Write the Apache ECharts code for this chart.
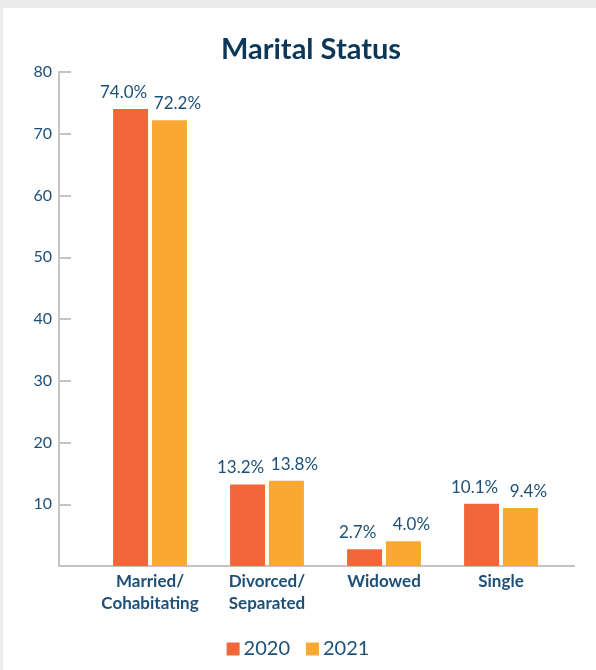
<!DOCTYPE html>
<html>
<head>
<meta charset="utf-8">
<script src="https://cdn.jsdelivr.net/npm/echarts@6/dist/echarts.min.js"></script>
<style>
  html, body { margin: 0; padding: 0; background: #ececec; }
  #panel { position: absolute; left: 3px; top: 8px; right: 0; bottom: 0; background: #ffffff; }
  #chart { position: absolute; left: 0; top: 0; width: 596px; height: 670px; }
</style>
</head>
<body>
<div id="panel"></div>
<div id="chart"></div>
<script>
const categories = ['Married/\nCohabitating', 'Divorced/\nSeparated', 'Widowed', 'Single'];
const seriesNames = ['2020', '2021'];
const values2020 = [74.0, 13.2, 2.7, 10.1];
const values2021 = [72.2, 13.8, 4.0, 9.4];
const yTicks = [0, 10, 20, 30, 40, 50, 60, 70, 80];

const textColor = '#1d5078';
const chart = echarts.init(document.getElementById('chart'), null, { renderer: 'canvas' });

const labelStyle = (dx) => ({
  show: true,
  position: 'top',
  distance: 8,
  offset: [dx, 0],
  color: textColor,
  fontFamily: 'Lato',
  fontSize: 17,
  formatter: (p) => p.value.toFixed(1) + '%'
});

chart.setOption({
  animation: false,
  title: {
    text: 'Marital Status',
    left: 306,
    textAlign: 'center',
    top: 30,
    textStyle: { color: '#0d3757', fontFamily: 'Lato', fontWeight: 'bold', fontSize: 29 }
  },
  legend: {
    data: seriesNames,
    bottom: 6,
    left: 'center',
    icon: 'rect',
    itemWidth: 13,
    itemHeight: 13,
    itemGap: 16,
    textStyle: { color: textColor, fontFamily: 'Lato', fontSize: 20, padding: [0, 0, 0, -1] }
  },
  grid: [
    { left: 59, right: 22, top: 72, bottom: 104 },
    { left: 91.5, right: 36.5, top: 72, bottom: 104 }
  ],
  xAxis: [
    {
      gridIndex: 0, type: 'category', data: [''],
      axisLine: { show: true, lineStyle: { color: '#c4c4c4', width: 2 } },
      axisTick: { show: false }, axisLabel: { show: false }
    },
    {
      gridIndex: 1, type: 'category', data: categories,
      axisLine: { show: false }, axisTick: { show: false },
      axisLabel: {
        color: textColor, fontFamily: 'Lato', fontWeight: 'bold', fontSize: 17,
        lineHeight: 22, margin: 5, interval: 0
      }
    }
  ],
  yAxis: [
    {
      gridIndex: 0, type: 'value', min: yTicks[0], max: yTicks[yTicks.length - 1], interval: 10,
      axisLine: { show: true, lineStyle: { color: '#c4c4c4', width: 2 } },
      axisTick: { show: true, inside: true, length: 12, lineStyle: { color: '#c4c4c4', width: 2 } },
      splitLine: { show: false },
      axisLabel: {
        color: textColor, fontFamily: 'Lato', fontSize: 16, margin: 7,
        formatter: (v) => (v === 0 ? '' : String(v))
      }
    },
    {
      gridIndex: 1, type: 'value', min: yTicks[0], max: yTicks[yTicks.length - 1], interval: 10, show: false
    }
  ],
  series: [
    {
      name: seriesNames[0], type: 'bar', xAxisIndex: 1, yAxisIndex: 1,
      data: values2020, barWidth: 35, barGap: '11%',
      itemStyle: { color: '#f26739' },
      label: labelStyle(-7)
    },
    {
      name: seriesNames[1], type: 'bar', xAxisIndex: 1, yAxisIndex: 1,
      data: values2021, barWidth: 35, barGap: '11%',
      itemStyle: { color: '#f9a832' },
      label: labelStyle(8)
    }
  ]
});
</script>
</body>
</html>
